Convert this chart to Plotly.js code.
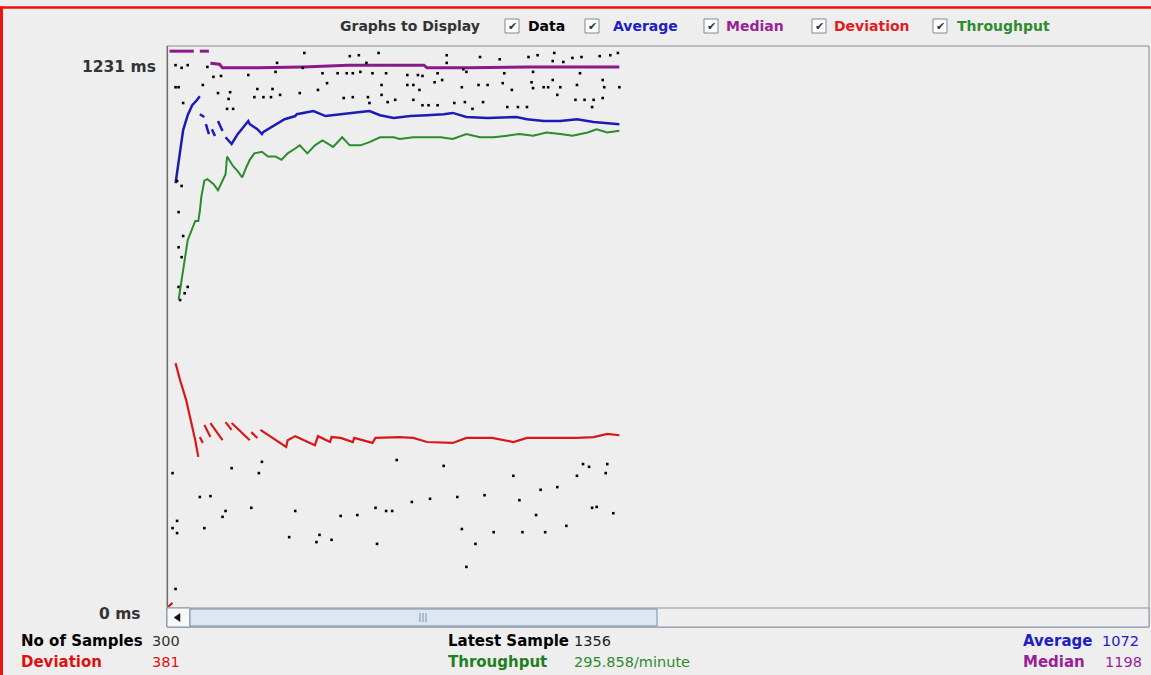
<!DOCTYPE html>
<html><head><meta charset="utf-8">
<script src="https://cdn.plot.ly/plotly-3.0.1.min.js"></script>
<style>html,body{margin:0;padding:0;background:#EEEEEE;overflow:hidden}#chart{width:1151px;height:675px}</style>
</head><body><div id="chart"></div><script>
// ---- values ----
// sample number (x) and response time in ms (y) of visible individual samples
const dataSample = [91,121,127,140,185,185,207,220,239,245,256,255,262,268,274,286,293,298,
  6,10,14,27,31,36,
  73,72,90,103,113,119,123,128,132,136,145,159,166,169,179,196,198,223,242,273,54,
  6,8,24,11,34,42,41,40,44,60,58,64,70,69,75,88,100,106,117,123,133,134,142,142,146,151,159,163,163,167,169,173,177,179,182,190,195,197,202,206,209,212,222,225,228,232,238,241,242,249,252,255,258,260,270,271,276,282,281,288,288,289,299,
  7,10,8,8,10,11,8,14,12,9,
  4,22,29,25,7,7,4,37,39,43,56,61,63,81,85,99,101,109,115,126,138,139,145,149,152,162,174,183,192,195,198,204,210,216,229,233,235,244,247,250,258,264,271,275,279,281,284,290,291,295,6];
const dataMs = [1229,1222,1224,1229,1224,1207,1220,1215,1220,1224,1229,1211,1209,1218,1220,1222,1224,1229,
  1202,1196,1202,1198,1176,1178,
  1207,1187,1196,1184,1184,1184,1184,1187,1207,1184,1184,1180,1180,1178,1184,1193,1187,1184,1187,1184,1180,
  1153,1153,1158,1118,1140,1142,1127,1105,1105,1149,1131,1131,1149,1131,1136,1140,1147,1162,1129,1131,1131,1118,1158,1136,1120,1125,1158,1158,1125,1147,1113,1113,1164,1113,1169,1118,1153,1120,1105,1158,1120,1158,1162,1109,1147,1109,1109,1164,1151,1153,1153,1169,1136,1153,1125,1158,1125,1125,1109,1129,1169,1153,1153,
  945,934,876,798,776,823,710,710,696,681,
  297,244,246,175,164,191,175,200,213,308,220,297,322,155,213,144,160,149,202,204,220,140,213,213,326,233,240,313,244,173,89,140,248,166,291,237,166,204,260,166,266,180,291,317,311,220,222,297,317,208,40];

// running average (ms); null = break in the drawn trace
const avgSample = [6,8,11,14,17,20,22,null,22,25,null,26,28,null,30,32,null,34,37,null,39,43,47,54,55,60,63,64,78,85,86,97,105,114,128,134,141,150,161,172,183,189,198,212,225,231,238,249,260,271,282,291,299];
const avgMs = [940,991,1058,1091,1113,1124,1133,null,1093,1087,null,1071,1049,null,1060,1045,null,1078,1056,null,1042,1027,1049,1078,1071,1060,1049,1054,1082,1089,1093,1100,1089,1093,1098,1100,1091,1085,1089,1091,1093,1096,1087,1085,1087,1087,1082,1078,1078,1082,1076,1073,1071];

// running median (ms)
const medSample = [2,18,null,22,28,null,29,35,37,60,90,120,160,170,172,200,240,270,299];
const medMs = [1233,1233,null,1233,1233,null,1206,1204,1196,1196,1198,1202,1202,1202,1196,1196,1198,1198,1198];

// running standard deviation (ms)
const devSample = [1,4,null,6,9,13,16,19,21,null,22,24,null,25,29,null,29,37,null,39,43,null,43,55,null,56,60,null,62,79,80,84,85,98,100,108,109,115,123,124,136,138,154,163,172,189,198,215,229,238,248,260,271,282,291,299];
const devMs = [0,9,null,541,503,459,415,370,333,null,377,364,null,404,377,null,408,370,null,410,393,null,408,370,null,388,375,null,393,355,370,377,379,359,379,366,377,375,366,375,364,375,377,375,366,364,375,375,366,375,375,375,375,377,384,381];

// throughput (requests / minute)
const thrSample = [8,10,12,14,19,21,22,23,25,27,31,34,35,39,40,44,47,50,53,55,58,63,67,72,76,80,85,88,93,98,103,110,116,121,128,134,141,150,154,163,172,181,189,198,207,216,225,233,242,251,260,268,278,284,291,299];
const thrPerMin = [191,203,216,228,240,240,246,255,265,266,263,259,261,269,280,274,271,267,274,278,282,283,280,280,278,282,285,287,282,287,290,286,292,287,287,289,292,292,291,292,292,292,291,294,292,292,293,294,293,295,294,293,295,297,295,296];

// labels
const headerTitle = 'Graphs to Display';
const legendNames = ['Data','Average','Median','Deviation','Throughput'];
const axisMaxLabel = '1231 ms';
const axisMinLabel = '0 ms';
const statLabels = ['No of Samples','Deviation','Latest Sample','Throughput','Average','Median'];
const statValues = ['300','381','1356','295.858/minute','1072','1198'];

// ---- layout helpers (pixel -> paper) ----
const L = 168, R = 1148, T = 48, B = 607;
const PX = x => (x - L) / (R - L);
const PY = y => (B - y) / (B - T);
const FONT = 'DejaVu Sans, Liberation Sans, sans-serif';
const C = {data:'#000000', avg:'#1C1CB4', med:'#8A1A8A', dev:'#D81818', thr:'#2A8C2A'};
const colorsByName = {Data:'#000000', Average:'#2020C0', Median:'#991F99', Deviation:'#E01E1E', Throughput:'#2E8B2E'};

const traces = [
  {x: medSample, y: medMs, type:'scatter', mode:'lines', line:{color:C.med, width:3}, connectgaps:false, hoverinfo:'skip'},
  {x: avgSample, y: avgMs, type:'scatter', mode:'lines', line:{color:C.avg, width:2.5}, connectgaps:false, hoverinfo:'skip'},
  {x: devSample, y: devMs, type:'scatter', mode:'lines', line:{color:C.dev, width:2.2}, connectgaps:false, hoverinfo:'skip'},
  {x: thrSample, y: thrPerMin, type:'scatter', mode:'lines', yaxis:'y2', line:{color:C.thr, width:2}, hoverinfo:'skip'},
  {x: dataSample, y: dataMs, type:'scatter', mode:'markers', marker:{color:C.data, size:2.6, symbol:'square', line:{width:0}}, hoverinfo:'skip'}
];

const shapes = [];
const ann = [];
function rect(x0,y0,x1,y1,fill,line,w){shapes.push({type:'rect',xref:'paper',yref:'paper',x0:PX(x0),x1:PX(x1),y0:PY(y0),y1:PY(y1),fillcolor:fill,line:{color:line,width:w===undefined?1:w},layer:'above'});}
function seg(x0,y0,x1,y1,color,w){shapes.push({type:'line',xref:'paper',yref:'paper',x0:PX(x0),x1:PX(x1),y0:PY(y0),y1:PY(y1),line:{color:color,width:w},layer:'above'});}
function text(t,x,y,color,size,anchor){ann.push({text:t,xref:'paper',yref:'paper',x:PX(x),y:PY(y),xanchor:anchor||'left',yanchor:'middle',showarrow:false,font:{family:FONT,size:size,color:color}});}

// red window frame
seg(0,7.5,1151,7.5,'#EE1111',2.5);
seg(1.5,6.5,1.5,675,'#EE1111',3);
// plot frame
rect(167,46,1149,627,'rgba(0,0,0,0)','#8C8C8C',1);
seg(167.5,46,167.5,608,'#6E6E6E',1.2);
// scrollbar
rect(167,608,1149,627,'#EEEEEE','#8796A8',1);
rect(167,608,190,627,'#F6F8FA','#8796A8',1);
shapes.push({type:'path',xref:'paper',yref:'paper',
  path:`M ${PX(174)} ${PY(617.5)} L ${PX(180)} ${PY(613.5)} L ${PX(180)} ${PY(621.5)} Z`,
  fillcolor:'#111111',line:{color:'#111111',width:0.5},layer:'above'});
rect(190,609,657,626,'#DCE7F3','#7B8EA3',1);
seg(420,613,420,622,'#7F91A5',1);
seg(423,613,423,622,'#7F91A5',1);
seg(426,613,426,622,'#7F91A5',1);

// header
text('<b>'+headerTitle+'</b>',338,26,'#333333',14);
const boxX = [505,585,704,812,933];
const labX = [526,611,724,832,955];
legendNames.forEach((n,k)=>{
  rect(boxX[k],19,boxX[k]+14,33,'#FFFFFF','#7A8A99',1);
  text('✔',boxX[k]+7,26.5,'#333333',11,'center');
  text('<b>'+n+'</b>',labX[k],26,colorsByName[n],14);
});

// axis labels
text('<b>'+axisMaxLabel+'</b>',158,67,'#333333',15.5,'right');
text('<b>'+axisMinLabel+'</b>',143,614,'#333333',15.5,'right');

// statistics
const statPos = [[19,641,150],[19,662,150],[446,641,572],[446,662,572],[1021,641,1100],[1021,662,1103]];
const statCol = [['#000000','#333333'],['#E01010','#E01010'],['#000000','#222222'],['#1F7F1F','#2E8B2E'],['#2020C0','#2020C0'],['#991F99','#991F99']];
statLabels.forEach((s,k)=>{
  text('<b>'+s+'</b>',statPos[k][0],statPos[k][1],statCol[k][0],15);
  text(statValues[k],statPos[k][2],statPos[k][1],statCol[k][1],14.5);
});

const layout = {
  width:1151, height:675,
  margin:{l:L, r:1151-R, t:T, b:675-B, pad:0},
  paper_bgcolor:'#EEEEEE', plot_bgcolor:'#EEEEEE',
  showlegend:false,
  xaxis:{range:[1,648], visible:false, fixedrange:true},
  yaxis:{range:[0,1240], visible:false, fixedrange:true},
  yaxis2:{range:[0,347.5], overlaying:'y', visible:false, fixedrange:true},
  shapes:shapes, annotations:ann
};
Plotly.newPlot('chart', traces, layout, {displayModeBar:false, staticPlot:true});
</script></body></html>
